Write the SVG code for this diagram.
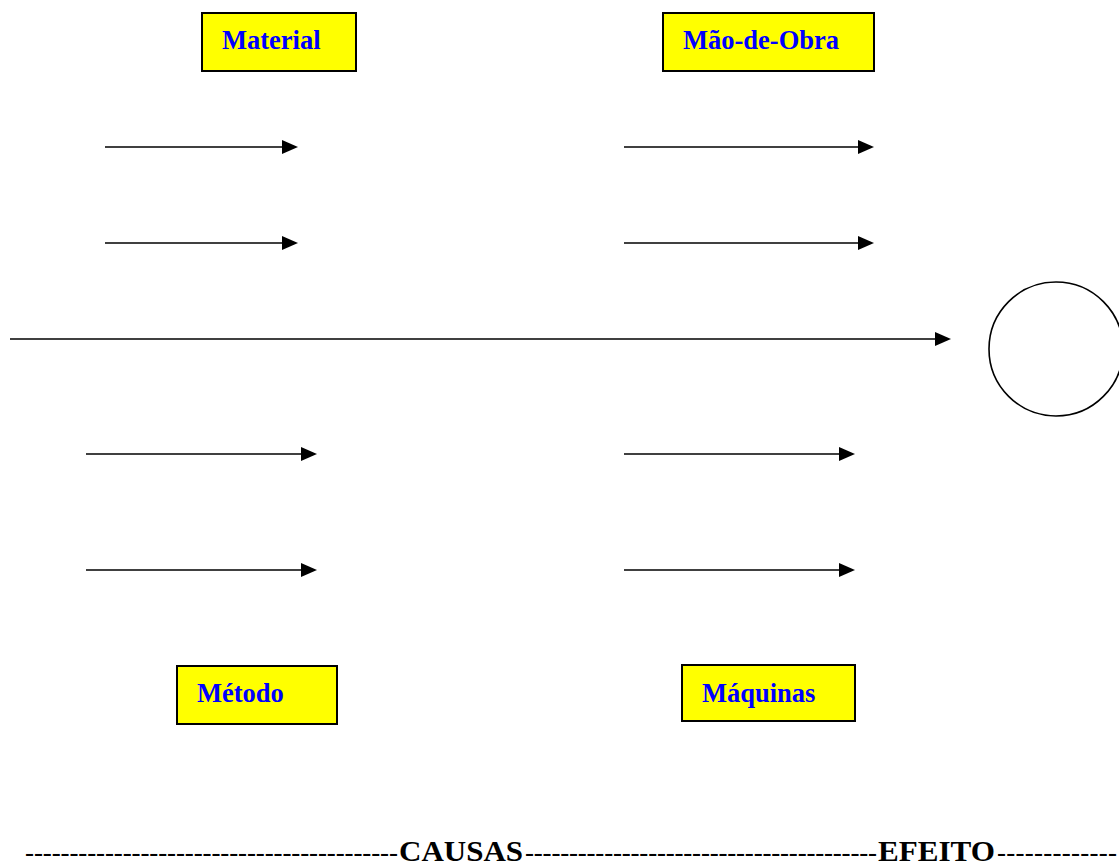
<svg xmlns="http://www.w3.org/2000/svg" width="1119" height="866" viewBox="0 0 1119 866">
<style>
.box{fill:#ffff00;stroke:#000;stroke-width:2}
.lbl{font-family:"Liberation Serif",serif;font-weight:bold;font-size:26.5px;fill:#0000ff}
.arr{stroke:#000;stroke-width:1.6;fill:none;marker-end:url(#ah)}
.foot{font-family:"Liberation Serif",serif;font-weight:bold;font-size:30px;fill:#000}
.dash{font-family:"Liberation Serif",serif;font-size:27px;fill:#000}
</style>
<defs>
<marker id="ah" markerUnits="userSpaceOnUse" markerWidth="16" markerHeight="14" refX="0" refY="7" orient="auto">
<path d="M0,0 L16,7 L0,14 Z" fill="#000"/>
</marker>
</defs>
<rect width="1119" height="866" fill="#fff"/>
<g id="material"><rect class="box" x="202" y="13" width="154" height="58"/><text class="lbl" x="222" y="49">Material</text></g>
<g id="mao-de-obra"><rect class="box" x="663" y="13" width="211" height="58"/><text class="lbl" x="683" y="49">Mão-de-Obra</text></g>
<g id="metodo"><rect class="box" x="177" y="666" width="160" height="58"/><text class="lbl" x="197" y="702">Método</text></g>
<g id="maquinas"><rect class="box" x="682" y="665" width="173" height="56"/><text class="lbl" x="702" y="702">Máquinas</text></g>
<g id="efeito"><circle cx="1056" cy="349" r="67" fill="none" stroke="#000" stroke-width="1.6"/></g>
<g id="connectors">
<line class="arr" x1="105" y1="147" x2="282" y2="147"/>
<line class="arr" x1="105" y1="243" x2="282" y2="243"/>
<line class="arr" x1="624" y1="147" x2="858" y2="147"/>
<line class="arr" x1="624" y1="243" x2="858" y2="243"/>
<line class="arr" x1="10" y1="339" x2="935" y2="339"/>
<line class="arr" x1="86" y1="454" x2="301" y2="454"/>
<line class="arr" x1="86" y1="570" x2="301" y2="570"/>
<line class="arr" x1="624" y1="454" x2="839" y2="454"/>
<line class="arr" x1="624" y1="570" x2="839" y2="570"/>
</g>
<g id="rodape">
<text class="dash" x="25" y="861" textLength="373" lengthAdjust="spacing">------------------------------------------</text>
<text class="foot" x="399" y="861" textLength="124" lengthAdjust="spacingAndGlyphs">CAUSAS</text>
<text class="dash" x="525" y="861" textLength="352" lengthAdjust="spacing">----------------------------------------</text>
<text class="foot" x="878" y="861" textLength="117" lengthAdjust="spacingAndGlyphs">EFEITO</text>
<text class="dash" x="997" y="861" textLength="120" lengthAdjust="spacing">-------------</text>
</g>
</svg>
